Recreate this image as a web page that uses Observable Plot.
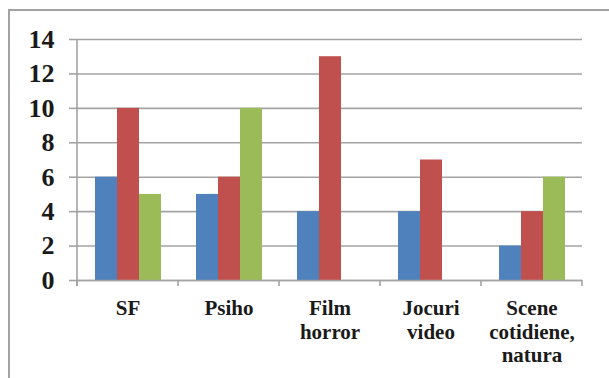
<!DOCTYPE html>
<html>
<head>
<meta charset="utf-8">
<script src="https://cdn.jsdelivr.net/npm/d3@7"></script>
<script src="https://cdn.jsdelivr.net/npm/@observablehq/plot@0.6"></script>
<style>
  html, body { margin: 0; padding: 0; background: #fff; overflow: hidden; }
  #wrap { position: relative; width: 609px; height: 378px; overflow: hidden; }
  #border { position: absolute; left: 8px; top: 9px; width: 700px; height: 500px;
            border-left: 2px solid #a3a3a3; border-top: 2px solid #a3a3a3; }
  #chart { position: absolute; left: 0; top: 0; }
  #chart svg, #chart svg text { font-family: "Liberation Serif", "Times New Roman", serif !important; font-weight: bold; }
</style>
</head>
<body>
<div id="wrap">
  <div id="border"></div>
  <div id="chart"></div>
</div>
<script>
// Categories (x axis labels, line breaks as shown under the axis)
const categories = ["SF", "Psiho", "Film\nhorror", "Jocuri\nvideo", "Scene\ncotidiene,\nnatura"];
const seriesNames = ["Seria 1", "Seria 2", "Seria 3"];
const seriesColors = ["#4f81bd", "#c0504d", "#9bbb59"];

// Values per series, one per category
const seria1 = [6, 5, 4, 4, 2];
const seria2 = [10, 6, 13, 7, 4];
const seria3 = [5, 10, 0, 0, 6];

const yTicks = [0, 2, 4, 6, 8, 10, 12, 14];

const data = [];
[seria1, seria2, seria3].forEach((vals, s) => {
  vals.forEach((v, i) => data.push({category: categories[i], series: seriesNames[s], value: v}));
});

const gridColor = "#a3a3a3";

const chart = Plot.plot({
  width: 609,
  height: 378,
  marginLeft: 75,
  marginRight: 26,
  marginTop: 39,
  marginBottom: 98,
  style: {background: "transparent", color: "#1a1a1a"},
  fx: {domain: categories, padding: 0, label: null},
  x: {domain: seriesNames, paddingInner: 0, paddingOuter: 0.76, axis: null},
  y: {domain: [0, 14], label: null},
  color: {domain: seriesNames, range: seriesColors},
  marks: [
    Plot.gridY(yTicks, {stroke: gridColor, strokeOpacity: 1, strokeWidth: 1.6}),
    Plot.barY(data, {fx: "category", x: "series", y: "value", fill: "series"}),
    Plot.axisY(yTicks, {tickSize: 8, tickPadding: 15, fontSize: 26, stroke: gridColor, strokeWidth: 1.6, strokeOpacity: 1, label: null}),
    Plot.axisFx({anchor: "bottom", tickSize: 0, tickPadding: 18, fontSize: 21, lineHeight: 1.12, label: null}),
    Plot.ruleY([0], {stroke: gridColor, strokeWidth: 1.6})
  ]
});

document.getElementById("chart").appendChild(chart);

// Vertical axis line and category boundary ticks, placed with the chart's own scales
const fx = chart.scale("fx");
const y = chart.scale("y");
const svg = d3.select(chart);
const y0 = y.apply(0);
const yTop = y.apply(14);
const edges = categories.map(c => fx.apply(c));
edges.push(fx.apply(categories[categories.length - 1]) + fx.bandwidth);
const g = svg.append("g").attr("stroke", gridColor).attr("stroke-width", 1.6);
g.append("line").attr("x1", edges[0]).attr("x2", edges[0]).attr("y1", yTop).attr("y2", y0 + 6);
g.selectAll(".tk").data(edges).join("line")
  .attr("x1", d => d).attr("x2", d => d).attr("y1", y0).attr("y2", y0 + 6);
</script>
</body>
</html>
